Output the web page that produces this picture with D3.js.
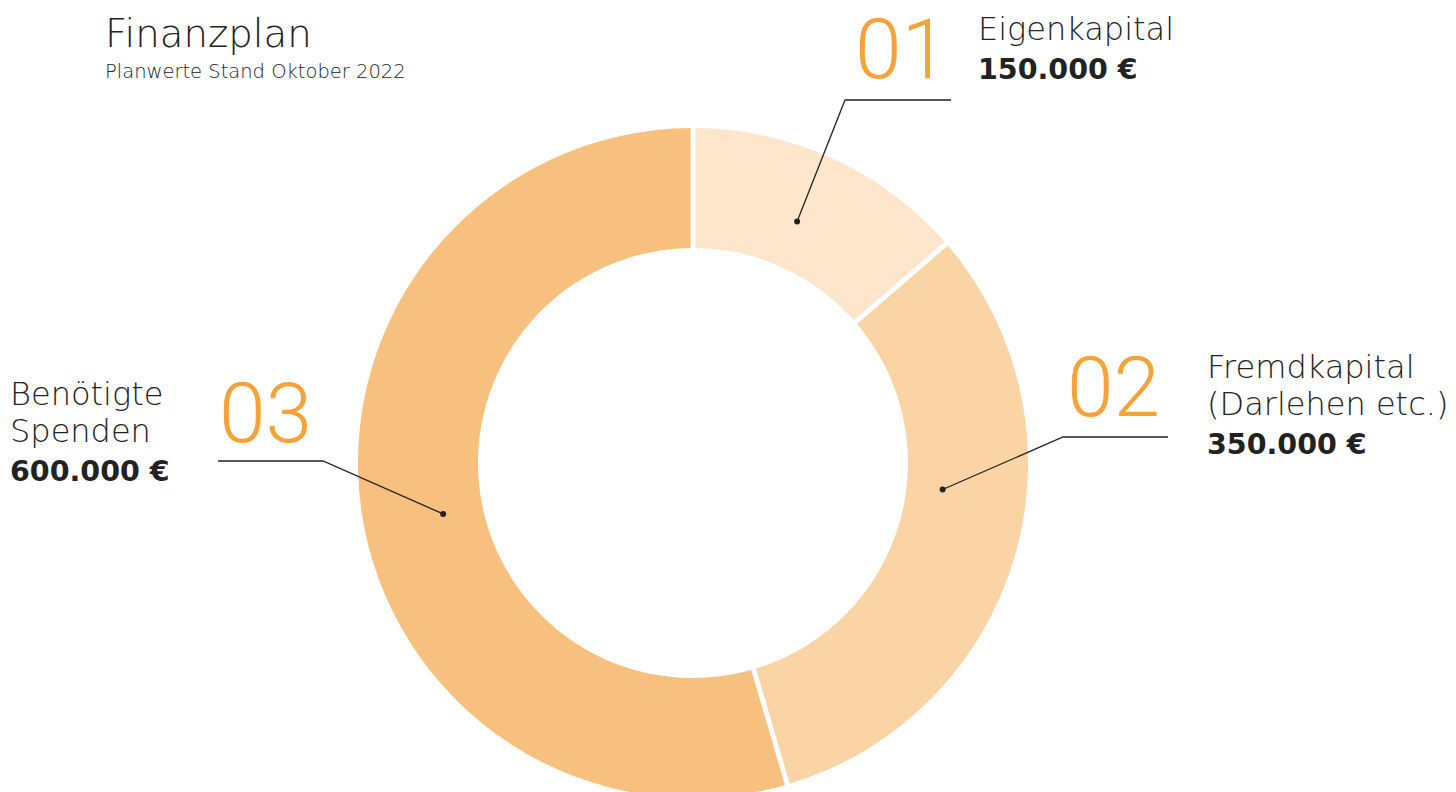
<!DOCTYPE html>
<html>
<head>
<meta charset="utf-8">
<script src="https://cdn.jsdelivr.net/npm/d3@7"></script>
<style>
  html, body { margin: 0; padding: 0; background: #fff; }
  svg text { font-family: "DejaVu Sans", sans-serif; }
  svg text.num { font-family: Roboto, sans-serif; }
</style>
</head>
<body>
<div id="graph"></div>
<script>
// data
var nums = ['01', '02', '03']
var labels = [['Eigenkapital'], ['Fremdkapital', '(Darlehen etc.)'], ['Benötigte', 'Spenden']]
var values = [150000, 350000, 600000]
var valueLabels = ['150.000 €', '350.000 €', '600.000 €']
var colors = ['#fde6cc', '#fad4a4', '#f8c07e']

var title = 'Finanzplan'
var subtitle = 'Planwerte Stand Oktober 2022'

// layout for the leader lines and label blocks
var layout = [
  {frac: .475, r: 263, elbow: [845, 100], end: [951, 100], num: [855, 78], text: [978, 40]},
  {frac: .41, r: 251, elbow: [1063, 437], end: [1168, 437], num: [1067, 416], text: [1207, 378]},
  {frac: .483, r: 255, elbow: [323, 461], end: [218, 461], num: [219, 442], text: [10, 405]},
]

var width = 1456, height = 792
var cx = 693, cy = 463, outerR = 335, innerR = 215

var svg = d3.select('#graph').append('svg')
  .attr('width', width)
  .attr('height', height)

var pie = d3.pie().sort(null).value(d => d)
var arcs = pie(values)

var arc = d3.arc()
  .innerRadius(innerR)
  .outerRadius(outerR)
  .padRadius(300)
  .padAngle(5/300)

var g = svg.append('g').attr('transform', `translate(${cx},${cy})`)

g.selectAll('path.slice').data(arcs).enter().append('path')
  .attr('class', 'slice')
  .attr('d', arc)
  .attr('fill', (d, i) => colors[i])

// leader lines + labels
arcs.forEach((d, i) => {
  var l = layout[i]
  var a = d.startAngle + l.frac*(d.endAngle - d.startAngle)
  var px = cx + Math.sin(a)*l.r
  var py = cy - Math.cos(a)*l.r

  svg.append('path')
    .attr('d', 'M' + [px, py] + 'L' + l.elbow + 'L' + l.end)
    .attr('fill', 'none')
    .attr('stroke', '#222')
    .attr('stroke-width', 1.3)

  svg.append('circle')
    .attr('cx', px).attr('cy', py).attr('r', 3)
    .attr('fill', '#222')

  svg.append('text')
    .attr('class', 'num')
    .attr('x', l.num[0]).attr('y', l.num[1])
    .attr('font-size', 84)
    .attr('font-weight', 300)
    .attr('fill', '#f6a23a')
    .text(nums[i])

  var t = svg.append('text')
    .attr('x', l.text[0]).attr('y', l.text[1])
    .attr('fill', '#222')

  labels[i].forEach((s, j) => {
    t.append('tspan')
      .attr('x', l.text[0])
      .attr('dy', j ? 37 : 0)
      .attr('font-size', 32)
      .attr('font-weight', 200)
      .text(s)
  })
  t.append('tspan')
    .attr('x', l.text[0])
    .attr('dy', 39)
    .attr('font-size', 28.5)
    .attr('font-weight', 700)
    .text(valueLabels[i])
})

svg.append('text')
  .attr('x', 105).attr('y', 47)
  .attr('font-size', 38.7)
  .attr('font-weight', 200)
  .attr('fill', '#222')
  .text(title)

svg.append('text')
  .attr('x', 105).attr('y', 78)
  .attr('font-size', 19.5)
  .attr('font-weight', 200)
  .attr('fill', '#222')
  .text(subtitle)
</script>
</body>
</html>
